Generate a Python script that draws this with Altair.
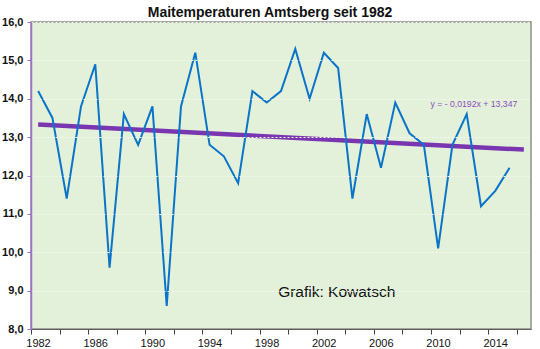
import altair as alt
import pandas as pd

years = list(range(1982, 2016))
temps = [14.2, 13.5, 11.4, 13.8, 14.9, 9.6, 13.6, 12.8, 13.8, 8.6,
         13.8, 15.2, 12.8, 12.5, 11.8, 14.2, 13.9, 14.2, 15.3, 14.0,
         15.2, 14.8, 11.4, 13.6, 12.2, 13.9, 13.1, 12.8, 10.1, 12.8,
         13.6, 11.2, 11.6, 12.2]

# Trend line as printed on the chart: y = -0,0192x + 13,347 (x = 1 for 1982), extended to 2016
trend_slope = -0.0192
trend_intercept = 13.347
trend_years = [1982, 2016]
trend_vals = [trend_intercept + trend_slope * (y - 1981) for y in trend_years]

eq_label = ["y = - 0,0192x + 13,347"]
eq_pos_year = [2012.5]
eq_pos_val = [13.86]
credit_label = ["Grafik: Kowatsch"]
credit_year = [1998.8]
credit_val = [8.96]

tick_vals = [1981.5 + 2 * i for i in range(18)]
y_ticks = [8, 9, 10, 11, 12, 13, 14, 15, 16]

df = pd.DataFrame({"Jahr": years, "Temp": temps})
df_trend = pd.DataFrame({"Jahr": trend_years, "Temp": trend_vals})
df_eq = pd.DataFrame({"Jahr": eq_pos_year, "Temp": eq_pos_val, "t": eq_label})
df_cr = pd.DataFrame({"Jahr": credit_year, "Temp": credit_val, "t": credit_label})

font = "Liberation Sans"

xscale = alt.Scale(domain=[1981.5, 2016.5], nice=False, zero=False)
yscale = alt.Scale(domain=[8, 16], nice=False, zero=False)

xaxis = alt.Axis(
    values=tick_vals,
    labelExpr="((datum.value - 1981.5) % 4 == 0) ? toString(datum.value + 0.5) : ''",
    labelOffset=7,
    labelFlush=False,
    labelOverlap=False,
    grid=False,
    title=None,
    domainColor="#606060",
    tickColor="#404040",
    tickSize=5,
    labelFont=font,
    labelFontSize=11,
    labelColor="#111111",
    labelPadding=3,
    zindex=1,
)
yaxis = alt.Axis(
    values=y_ticks,
    labelExpr="replace(format(datum.value, '.1f'), '.', ',')",
    labelOverlap=False,
    labelFlush=False,
    title=None,
    grid=True,
    gridColor="#f4f8f0",
    gridDash=[2, 2],
    gridWidth=1,
    domainColor="#A070D0",
    domainWidth=1.5,
    tickColor="#A070D0",
    tickSize=4,
    labelFont=font,
    labelFontSize=11,
    labelFontWeight="bold",
    labelColor="#111111",
    labelPadding=4,
    zindex=1,
)

X = alt.X("Jahr:Q", scale=xscale, axis=xaxis)
Y = alt.Y("Temp:Q", scale=yscale, axis=yaxis)

trend = alt.Chart(df_trend).mark_line(color="#7A35B0", strokeWidth=4.5).encode(x=X, y=Y)

line = alt.Chart(df).mark_line(color="#0A74C8", strokeWidth=2).encode(x=X, y=Y)

eq = alt.Chart(df_eq).mark_text(color="#8A4FC0", fontSize=8.7, font=font, align="center").encode(
    x=X, y=Y, text="t:N"
)

credit = alt.Chart(df_cr).mark_text(color="#111111", fontSize=15.5, font=font, align="left").encode(
    x=X, y=Y, text="t:N"
)

chart = alt.layer(trend, line, eq, credit).properties(
    width=500,
    height=307,
    title=alt.TitleParams(
        "Maitemperaturen Amtsberg seit 1982",
        font=font,
        fontSize=14,
        fontWeight="bold",
        color="#111111",
        dx=-11,
        offset=-4,
    ),
    autosize=alt.AutoSizeParams(type="none"),
    padding={"left": 31, "top": 22, "right": 9, "bottom": 20},
    background="white",
).configure_view(
    fill="#E4F1DA",
    stroke="#8A8F88",
    strokeWidth=1.5,
)

chart.save("out.html", embed_options={"renderer": "svg", "actions": False})
